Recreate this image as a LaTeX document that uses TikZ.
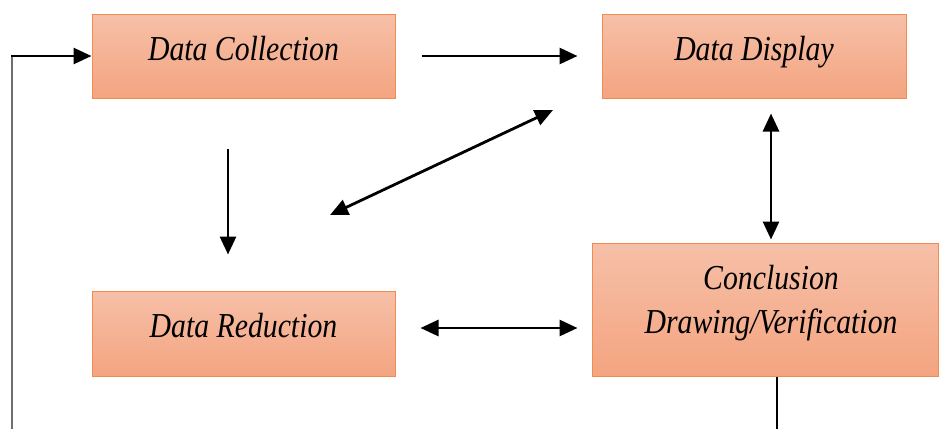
\documentclass[tikz,border=0pt]{standalone}
\usepackage{fontspec}
\usetikzlibrary{arrows.meta}
\newfontfamily\boxfont[FakeStretch=0.85]{Liberation Serif}
\definecolor{boxtop}{RGB}{246,192,168}
\definecolor{boxbot}{RGB}{244,164,128}
\definecolor{boxline}{RGB}{240,140,80}
\definecolor{leftline}{RGB}{110,110,110}
\tikzset{
  boxtext/.style={font=\boxfont\itshape\fontsize{35}{44}\selectfont, inner sep=0pt},
  stagebox/.style={draw=boxline, line width=1pt, top color=boxtop, bottom color=boxbot,
    rectangle, inner sep=0pt, boxtext, text height=24pt, text depth=16pt},
  conn/.style={line width=2.8pt, -{Triangle[length=18pt,width=16pt]}},
  dconn/.style={line width=2.8pt, {Triangle[length=18pt,width=16pt]}-{Triangle[length=18pt,width=16pt]}},
}
\begin{document}
\begin{tikzpicture}[x=1pt,y=-1pt]
\useasboundingbox (0,0) rectangle (939,429);
\node[stagebox, minimum width=303pt, minimum height=84pt] (dc) at (243.5,56) {Data Collection};
\node[stagebox, minimum width=304pt, minimum height=84pt] (dd) at (754,56) {Data Display};
\node[stagebox, minimum width=303pt, minimum height=85pt] (dr) at (243.5,333.5) {Data Reduction};
\node[stagebox, minimum width=346pt, minimum height=133pt] (cd) at (765,309.5) {};
\node[boxtext, align=center] (cdt) at (771,303) {Conclusion\\Drawing/Verification};
% connectors
\draw[conn, shorten <=26pt, shorten >=24pt] (dc.east) -- (dd.west);
\draw[conn, shorten <=50pt, shorten >=36pt] ([xshift=-15.5pt]dc.south) -- ([xshift=-15.5pt]dr.north);
\coordinate (dgA) at (330,215);
\coordinate (dgB) at (553,110);
\draw[dconn] (dgA) -- (dgB);
\draw[dconn, shorten <=15pt, shorten >=3pt] ([xshift=17pt]dd.south) -- ([xshift=6pt]cd.north);
\draw[dconn, shorten <=25pt, shorten >=14pt] ([yshift=5.5pt]dr.east) -- ([yshift=-18.5pt]cd.west);
% feedback lines
\coordinate (fb) at (12,429);
\coordinate (fbc) at (12,56);
\draw[leftline, line width=2.8pt] (fb) -- (fbc);
\draw[conn] ([xshift=-1.4pt]fbc) -- (dc.west);
\coordinate (cdb) at (777,429);
\draw[line width=2.8pt] ([xshift=12pt]cd.south) -- (cdb);
\end{tikzpicture}
\end{document}
